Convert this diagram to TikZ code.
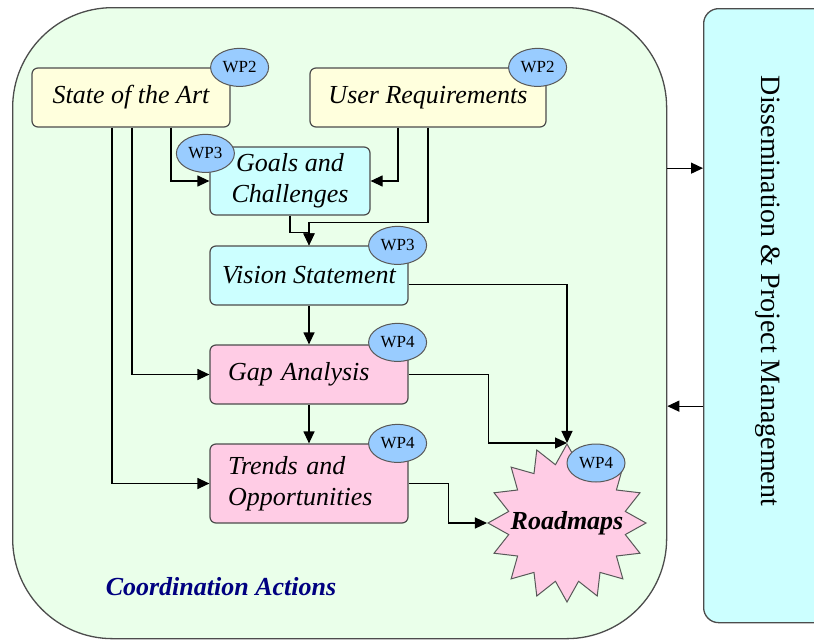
\documentclass[tikz,border=0pt]{standalone}
\usepackage{fontspec}
\setmainfont{Liberation Serif}
\usepackage{tikz}
\usetikzlibrary{arrows.meta,shapes,positioning,calc}
\definecolor{areagreen}{RGB}{234,255,234}
\definecolor{panelcyan}{RGB}{204,255,255}
\definecolor{inputyellow}{RGB}{255,255,221}
\definecolor{outputpink}{RGB}{255,204,229}
\definecolor{wpblue}{RGB}{153,204,255}
\definecolor{titlenavy}{RGB}{0,0,128}

\begin{document}
\begin{tikzpicture}[
    x=1pt, y=-1pt,
    task/.style={rectangle, rounded corners=6pt, draw=black!70, line width=1.2pt, minimum height=59pt, align=center, font=\fontsize{26}{31}\selectfont\itshape},
    wp/.style={ellipse, draw=black!65, fill=wpblue, line width=1pt, minimum width=58pt, minimum height=38pt, inner sep=0pt, font=\fontsize{17}{20}\selectfont},
    link/.style={-{Triangle[length=12pt,width=11pt]}, line width=1.2pt}
]
    \path[use as bounding box] (0,0) rectangle (814,640);
    \clip (0,0) rectangle (814,640);

    % frames
    \node[draw=black!70, line width=1.3pt, fill=areagreen, rounded corners=100pt, anchor=north west, minimum width=654pt, minimum height=631pt] (coord) at (12,7) {};
    \node[draw=black!70, line width=1.3pt, fill=panelcyan, rounded corners=15pt, anchor=north west, minimum width=130pt, minimum height=614pt] (dpm) at (703,8) {};
    \node[rotate=-90, font=\fontsize{28}{32}\selectfont] (dpmtext) at (768,291) {Dissemination \& Project Management};
    \node[font=\fontsize{26}{31}\selectfont\bfseries\itshape, text=titlenavy] (title) at (221,587) {Coordination Actions};

    % tasks
    \node[task, fill=inputyellow, minimum width=198pt] (art) at (131,97.5) {State of the Art};
    \node[task, fill=inputyellow, minimum width=236pt] (user) at (428,97.5) {User Requirements};
    \node[task, fill=panelcyan, minimum width=160pt, minimum height=68pt] (goals) at (290,181) {Goals and\\Challenges};
    \node[task, fill=panelcyan, minimum width=198pt] (vision) at (309,275.5) {Vision Statement};
    \node[task, fill=outputpink, text width=162pt, inner xsep=18pt, align=left] (gap) at (309,374.5) {Gap Analysis};
    \node[task, fill=outputpink, text width=162pt, inner xsep=18pt, align=left, minimum height=79pt] (trends) at (309,483.5) {Trends and\\Opportunities};
    \node[star, star points=16, star point ratio=1.33, minimum size=158pt, inner sep=0pt, draw=black!65, line width=1pt, fill=outputpink] (road) at (567,523) {};
    \node[font=\fontsize{26}{31}\selectfont\bfseries\itshape] (roadtext) at (road.center) {Roadmaps};

    % work packages
    \node[wp] (wpart) at ([xshift=9pt]art.north east) {WP2};
    \node[wp] (wpuser) at ([xshift=-9pt]user.north east) {WP2};
    \node[wp] (wpgoals) at ([shift={(-4pt,-7pt)}]goals.north west) {WP3};
    \node[wp] (wpvision) at ([xshift=-11pt]vision.north east) {WP3};
    \node[wp] (wpgap) at ([shift={(-11pt,2pt)}]gap.north east) {WP4};
    \node[wp] (wptrends) at ([xshift=-11pt]trends.north east) {WP4};
    \node[wp] (wproad) at ([shift={(29pt,60pt)}]road.center) {WP4};

    % flows
    \draw[link] ([xshift=-19pt]art.south) |- (trends.west);
    \draw[link] ([xshift=1pt]art.south) |- (gap.west);
    \draw[link] ([xshift=40pt]art.south) |- (goals.west);
    \draw[link] ([xshift=-30pt]user.south) |- (goals.east);
    \draw[link] (user.south) -- ++(0,95) -| (vision.north);
    \draw[link] (goals.south) -- ++(0,17) -| (vision.north);
    \draw[link] ([yshift=-9pt]vision.east) -| (road.outer point 1);
    \draw[link] (vision.south) -- (gap.north);
    \draw[link] (gap.east) -- ++(80,0) |- (road.outer point 1);
    \draw[link] (gap.south) -- (trends.north);
    \draw[link] (trends.east) -- ++(40,0) |- (road.outer point 5);
    \draw[link] ([yshift=155pt]coord.east) -- ([yshift=155pt]coord.east -| dpm.west);
    \draw[link] ([yshift=-83pt]coord.east -| dpm.west) -- ([yshift=-83pt]coord.east);
\end{tikzpicture}
\end{document}
